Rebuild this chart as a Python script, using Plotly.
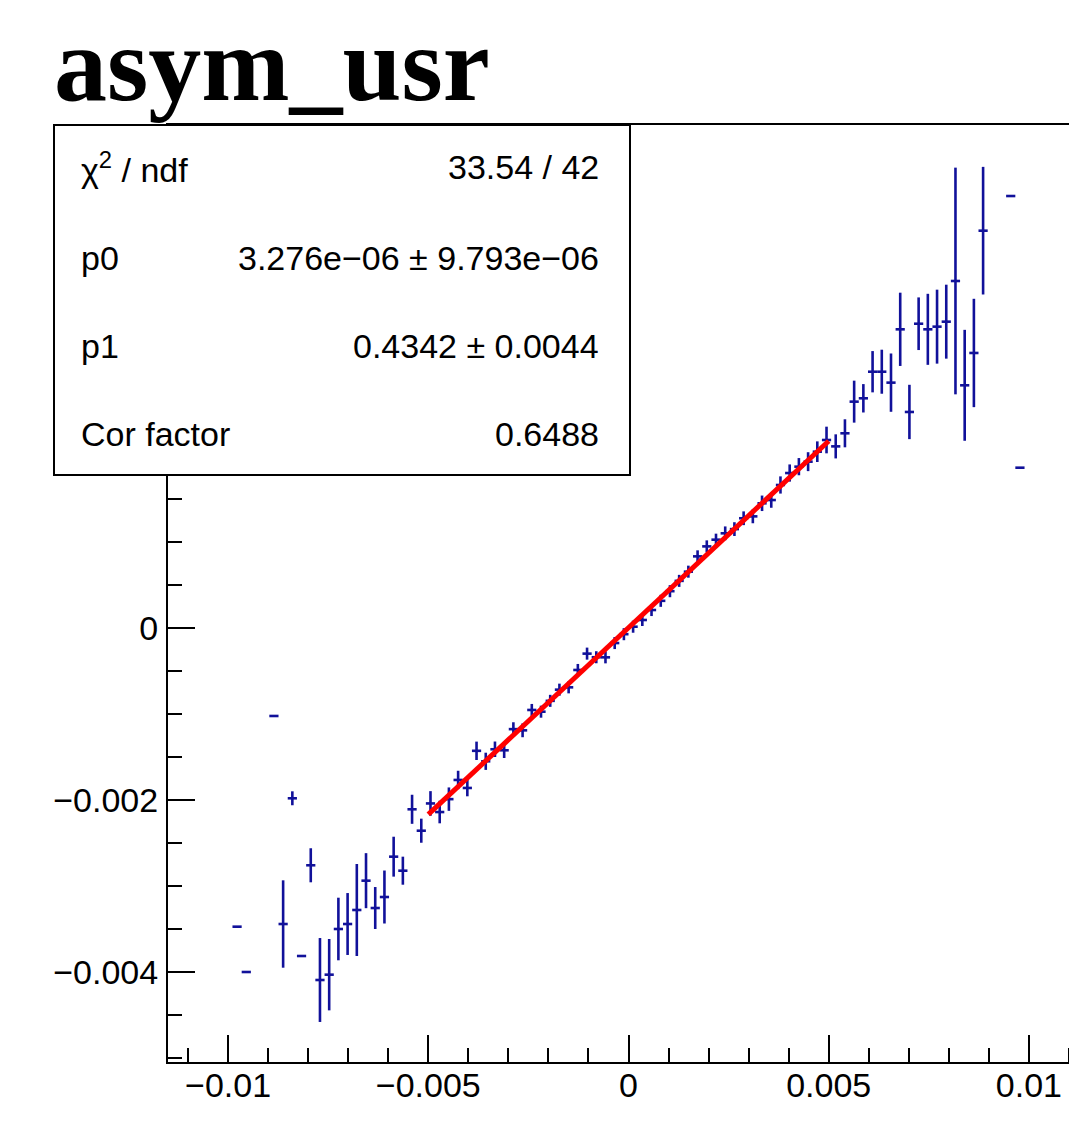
import plotly.graph_objects as go

# ---------------- data (profile bins: centre, mean, error) ----------------
x_center = [
    -0.009775, -0.009545, -0.008855, -0.008625, -0.008395, -0.008165, -0.007935,
    -0.007705, -0.007475, -0.007245, -0.007015, -0.006785, -0.006555, -0.006325,
    -0.006095, -0.005865, -0.005635, -0.005405, -0.005175, -0.004945, -0.004715,
    -0.004485, -0.004255, -0.004025, -0.003795, -0.003565, -0.003335, -0.003105,
    -0.002875, -0.002645, -0.002415, -0.002185, -0.001955, -0.001725, -0.001495,
    -0.001265, -0.001035, -0.000805, -0.000575, -0.000345, -0.000115, 0.000115,
    0.000345, 0.000575, 0.000805, 0.001035, 0.001265, 0.001495, 0.001725,
    0.001955, 0.002185, 0.002415, 0.002645, 0.002875, 0.003105, 0.003335,
    0.003565, 0.003795, 0.004025, 0.004255, 0.004485, 0.004715, 0.004945,
    0.005175, 0.005405, 0.005635, 0.005865, 0.006095, 0.006325, 0.006555,
    0.006785, 0.007015, 0.007245, 0.007475, 0.007705, 0.007935, 0.008165,
    0.008395, 0.008625, 0.008855, 0.009545, 0.009775,
]
y_mean = [
    -0.003473, -0.004000, -0.001023, -0.003442, -0.001980, -0.003814, -0.002759,
    -0.004093, -0.004031, -0.003500, -0.003442, -0.003279, -0.002938, -0.003256,
    -0.003128, -0.002659, -0.002822, -0.002108, -0.002357, -0.002040, -0.002140,
    -0.001990, -0.001767, -0.001860, -0.001428, -0.001550, -0.001410, -0.001422,
    -0.001176, -0.001190, -0.000953, -0.000973, -0.000847, -0.000717, -0.000690,
    -0.000488, -0.000298, -0.000340, -0.000341, -0.000175, -0.000072, 0.000015,
    0.000093, 0.000209, 0.000316, 0.000428, 0.000548, 0.000655, 0.000833,
    0.000949, 0.001027, 0.001101, 0.001150, 0.001276, 0.001298, 0.001450,
    0.001488, 0.001663, 0.001802, 0.001876, 0.001934, 0.002050, 0.002186,
    0.002112, 0.002264, 0.002632, 0.002671, 0.002980, 0.002980, 0.002853,
    0.003473, 0.002512, 0.003538, 0.003473, 0.003504, 0.003562, 0.004035,
    0.002822, 0.003198, 0.004620, 0.005023, 0.001864,
]
y_err = [
    0.0, 0.0, 0.0, 0.000508, 0.000081, 0.0, 0.000198,
    0.000488, 0.000415, 0.000364, 0.000360, 0.000535, 0.000320, 0.000244,
    0.000308, 0.000232, 0.000163, 0.000169, 0.000140, 0.000143, 0.000131,
    0.000136, 0.000107, 0.000097, 0.000107, 0.000100, 0.000090, 0.000090,
    0.000080, 0.000080, 0.000070, 0.000070, 0.000070, 0.000070, 0.000070,
    0.000070, 0.000070, 0.000070, 0.000070, 0.000070, 0.000070, 0.000070,
    0.000070, 0.000070, 0.000070, 0.000070, 0.000070, 0.000070, 0.000070,
    0.000070, 0.000070, 0.000080, 0.000080, 0.000080, 0.000080, 0.000090,
    0.000090, 0.000100, 0.000100, 0.000100, 0.000110, 0.000120, 0.000155,
    0.000140, 0.000163, 0.000244, 0.000165, 0.000240, 0.000256, 0.000339,
    0.000426, 0.000316, 0.000306, 0.000413, 0.000430, 0.000430, 0.001318,
    0.000645, 0.000630, 0.000742, 0.0, 0.0,
]
bin_half_width = 0.000115

fit_p0 = 3.276e-06
fit_p1 = 0.4342
fit_range = [-0.005, 0.005]

x_tickvals = [-0.01, -0.005, 0, 0.005, 0.01]
y_tickvals = [-0.004, -0.002, 0]   # labels above 0 are hidden by the stats box

title_text = "asym_usr"
stats_labels = ["χ<sup>2</sup> / ndf", "p0", "p1", "Cor factor"]
stats_values = ["33.54 / 42", "3.276e−06 ± 9.793e−06", "0.4342 ± 0.0044", "0.6488"]

# ---------------- layout geometry (pixels) ----------------
W, H = 1069, 1117
ML, MR, MT, MB = 160, 0, 117, 63
PW = W - ML - MR
PH = H - MT - MB


def px(xpix):
    return (xpix - ML) / PW


def py(ypix):
    return (H - MB - ypix) / PH


DATA_COLOR = "#11119a"
SANS = "Liberation Sans, Arial, Helvetica, sans-serif"

fig = go.Figure()
fig.add_trace(go.Scatter(
    x=x_center, y=y_mean, mode="markers",
    marker=dict(size=1, color=DATA_COLOR, opacity=0),
    error_x=dict(type="constant", value=bin_half_width, color=DATA_COLOR,
                 thickness=2.6, width=0),
    error_y=dict(type="data", array=y_err, visible=True, color=DATA_COLOR,
                 thickness=2.6, width=0),
    showlegend=False, hoverinfo="skip",
))

fit_x = fit_range
fit_y = [fit_p0 + fit_p1 * v for v in fit_x]
fig.add_trace(go.Scatter(
    x=fit_x, y=fit_y, mode="lines",
    line=dict(color="#ff0000", width=5),
    showlegend=False, hoverinfo="skip",
))

axis_common = dict(
    showgrid=False, zeroline=False, showline=True, linecolor="black",
    linewidth=2, ticks="inside", tickcolor="black", tickwidth=2,
    tickfont=dict(family=SANS, size=34, color="black"),
)

fig.update_xaxes(
    range=[-0.0115, 0.0112], tickmode="array", tickvals=x_tickvals,
    ticklen=27, tickformat=".3~f", mirror=True, ticklabelstandoff=-8,
    minor=dict(tickmode="linear", dtick=0.001, tick0=0, ticks="inside",
               ticklen=14, tickwidth=2, tickcolor="black"),
    **axis_common,
)
fig.update_yaxes(
    range=[-0.0050465, 0.0058488], tickmode="array", tickvals=y_tickvals,
    ticklen=27, tickformat=".3~f", mirror=False, ticklabelstandoff=1,
    minor=dict(tickmode="linear", dtick=0.0005, tick0=0, ticks="inside",
               ticklen=14, tickwidth=2, tickcolor="black"),
    **axis_common,
)

# stats box
fig.add_shape(type="rect", xref="paper", yref="paper",
              x0=px(46), x1=px(622), y0=py(467), y1=py(117),
              fillcolor="white", line=dict(color="black", width=2),
              layer="above")

row_y = [159, 250, 338, 426]
for lab, val, yy in zip(stats_labels, stats_values, row_y):
    fig.add_annotation(xref="paper", yref="paper", x=px(71), y=py(yy),
                       text=lab, showarrow=False, xanchor="left",
                       yanchor="middle",
                       font=dict(family=SANS, size=34, color="black"))
    fig.add_annotation(xref="paper", yref="paper", x=px(593), y=py(yy),
                       text=val, showarrow=False, xanchor="right",
                       yanchor="middle",
                       font=dict(family=SANS, size=34, color="black"))

# title
fig.add_annotation(xref="paper", yref="paper", x=px(44), y=py(56),
                   text="<b>" + title_text + "</b>", showarrow=False,
                   xanchor="left", yanchor="middle",
                   font=dict(family="Liberation Serif, Times New Roman, serif",
                             size=106, color="black"))

fig.update_layout(
    width=W, height=H,
    margin=dict(l=ML, r=MR, t=MT, b=MB, pad=0),
    plot_bgcolor="white", paper_bgcolor="white",
    showlegend=False,
)

fig.write_html("out.html")
